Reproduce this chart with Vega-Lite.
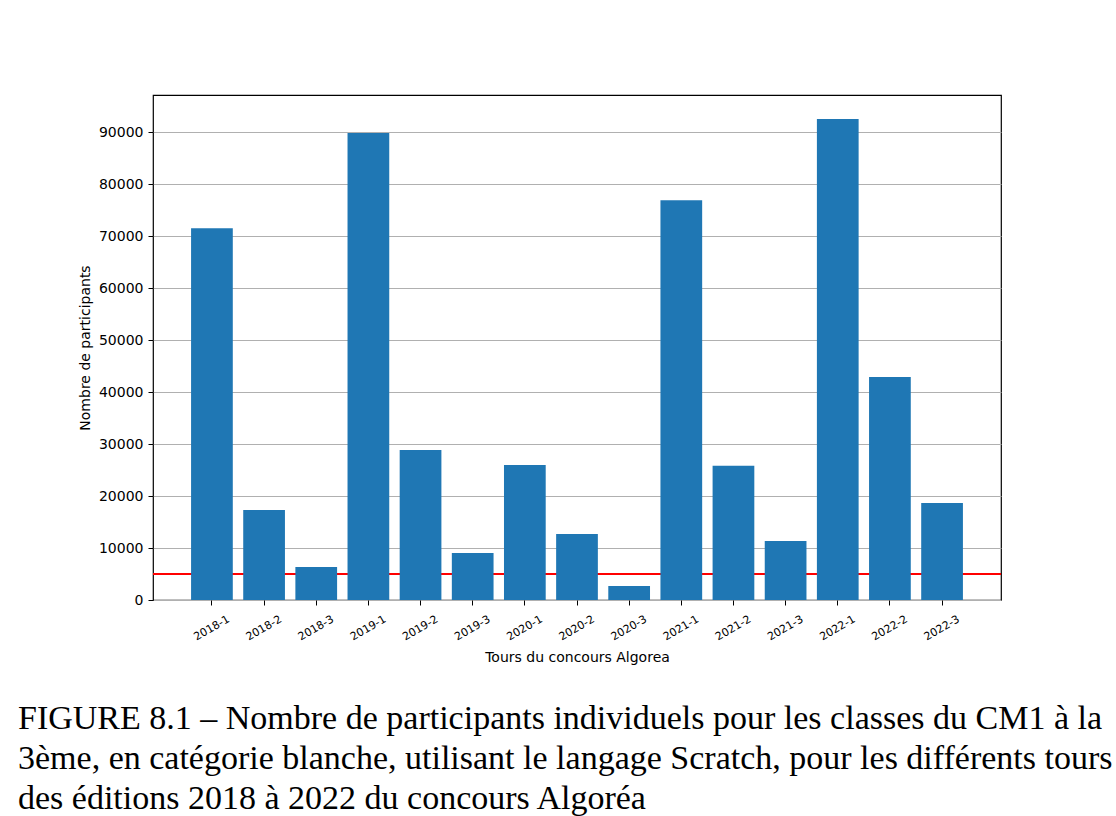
{
  "$schema": "https://vega.github.io/schema/vega-lite/v6.json",
  "autosize": "none",
  "width": 848,
  "height": 505,
  "padding": {"left": 153, "top": 95, "right": 115, "bottom": 216},
  "background": "white",
  "config": {
    "font": "DejaVu Sans",
    "view": {"stroke": "black", "strokeWidth": 1.2}
  },
  "title": {
    "text": [
      "FIGURE 8.1 – Nombre de participants individuels pour les classes du CM1 à la",
      "3ème, en catégorie blanche, utilisant le langage Scratch, pour les différents tours",
      "des éditions 2018 à 2022 du concours Algoréa"
    ],
    "orient": "bottom",
    "anchor": "start",
    "frame": "group",
    "dx": -135,
    "offset": 38,
    "font": "Liberation Serif",
    "fontSize": 34,
    "fontWeight": "normal",
    "lineHeight": 40,
    "color": "black",
    "baseline": "top"
  },
  "data": {
    "values": [
      {"tour": "2018-1", "participants": 71500},
      {"tour": "2018-2", "participants": 17300},
      {"tour": "2018-3", "participants": 6350},
      {"tour": "2019-1", "participants": 89800},
      {"tour": "2019-2", "participants": 28850},
      {"tour": "2019-3", "participants": 9050},
      {"tour": "2020-1", "participants": 25950},
      {"tour": "2020-2", "participants": 12700},
      {"tour": "2020-3", "participants": 2700},
      {"tour": "2021-1", "participants": 76900},
      {"tour": "2021-2", "participants": 25800},
      {"tour": "2021-3", "participants": 11350},
      {"tour": "2022-1", "participants": 92500},
      {"tour": "2022-2", "participants": 42900},
      {"tour": "2022-3", "participants": 18650}
    ]
  },
  "layer": [
    {
      "data": {"values": [{"seuil": 5000}]},
      "mark": {"type": "rule", "color": "#ff0000", "strokeWidth": 2},
      "encoding": {
        "y": {"field": "seuil", "type": "quantitative", "scale": {"domain": [0, 97125], "nice": false}}
      }
    },
    {
      "mark": {"type": "bar", "color": "#1f77b4"},
      "encoding": {
        "x": {
          "field": "tour",
          "type": "nominal",
          "sort": null,
          "scale": {"paddingInner": 0.2, "paddingOuter": 0.73},
          "axis": {
            "title": "Tours du concours Algorea",
            "titleFont": "DejaVu Sans",
            "titleFontSize": 14,
            "titleFontWeight": "normal",
            "titleColor": "black",
            "titlePadding": 8,
            "labelAngle": -30,
            "labelAlign": "center",
            "labelBaseline": "middle",
            "labelFontSize": 11,
            "labelColor": "black",
            "labelPadding": 23,
            "tickSize": 5,
            "tickColor": "black",
            "domain": false,
            "grid": false
          }
        },
        "y": {
          "field": "participants",
          "type": "quantitative",
          "scale": {"domain": [0, 97125], "nice": false},
          "axis": {
            "title": "Nombre de participants",
            "titleFont": "DejaVu Sans",
            "titleFontSize": 14,
            "titleFontWeight": "normal",
            "titleColor": "black",
            "titlePadding": 6,
            "values": [0, 10000, 20000, 30000, 40000, 50000, 60000, 70000, 80000, 90000],
            "format": "d",
            "labelFontSize": 14,
            "labelColor": "black",
            "labelPadding": 5,
            "tickSize": 5,
            "tickColor": "black",
            "domain": false,
            "grid": true,
            "gridColor": "#b0b0b0",
            "gridWidth": 1
          }
        }
      }
    }
  ]
}
